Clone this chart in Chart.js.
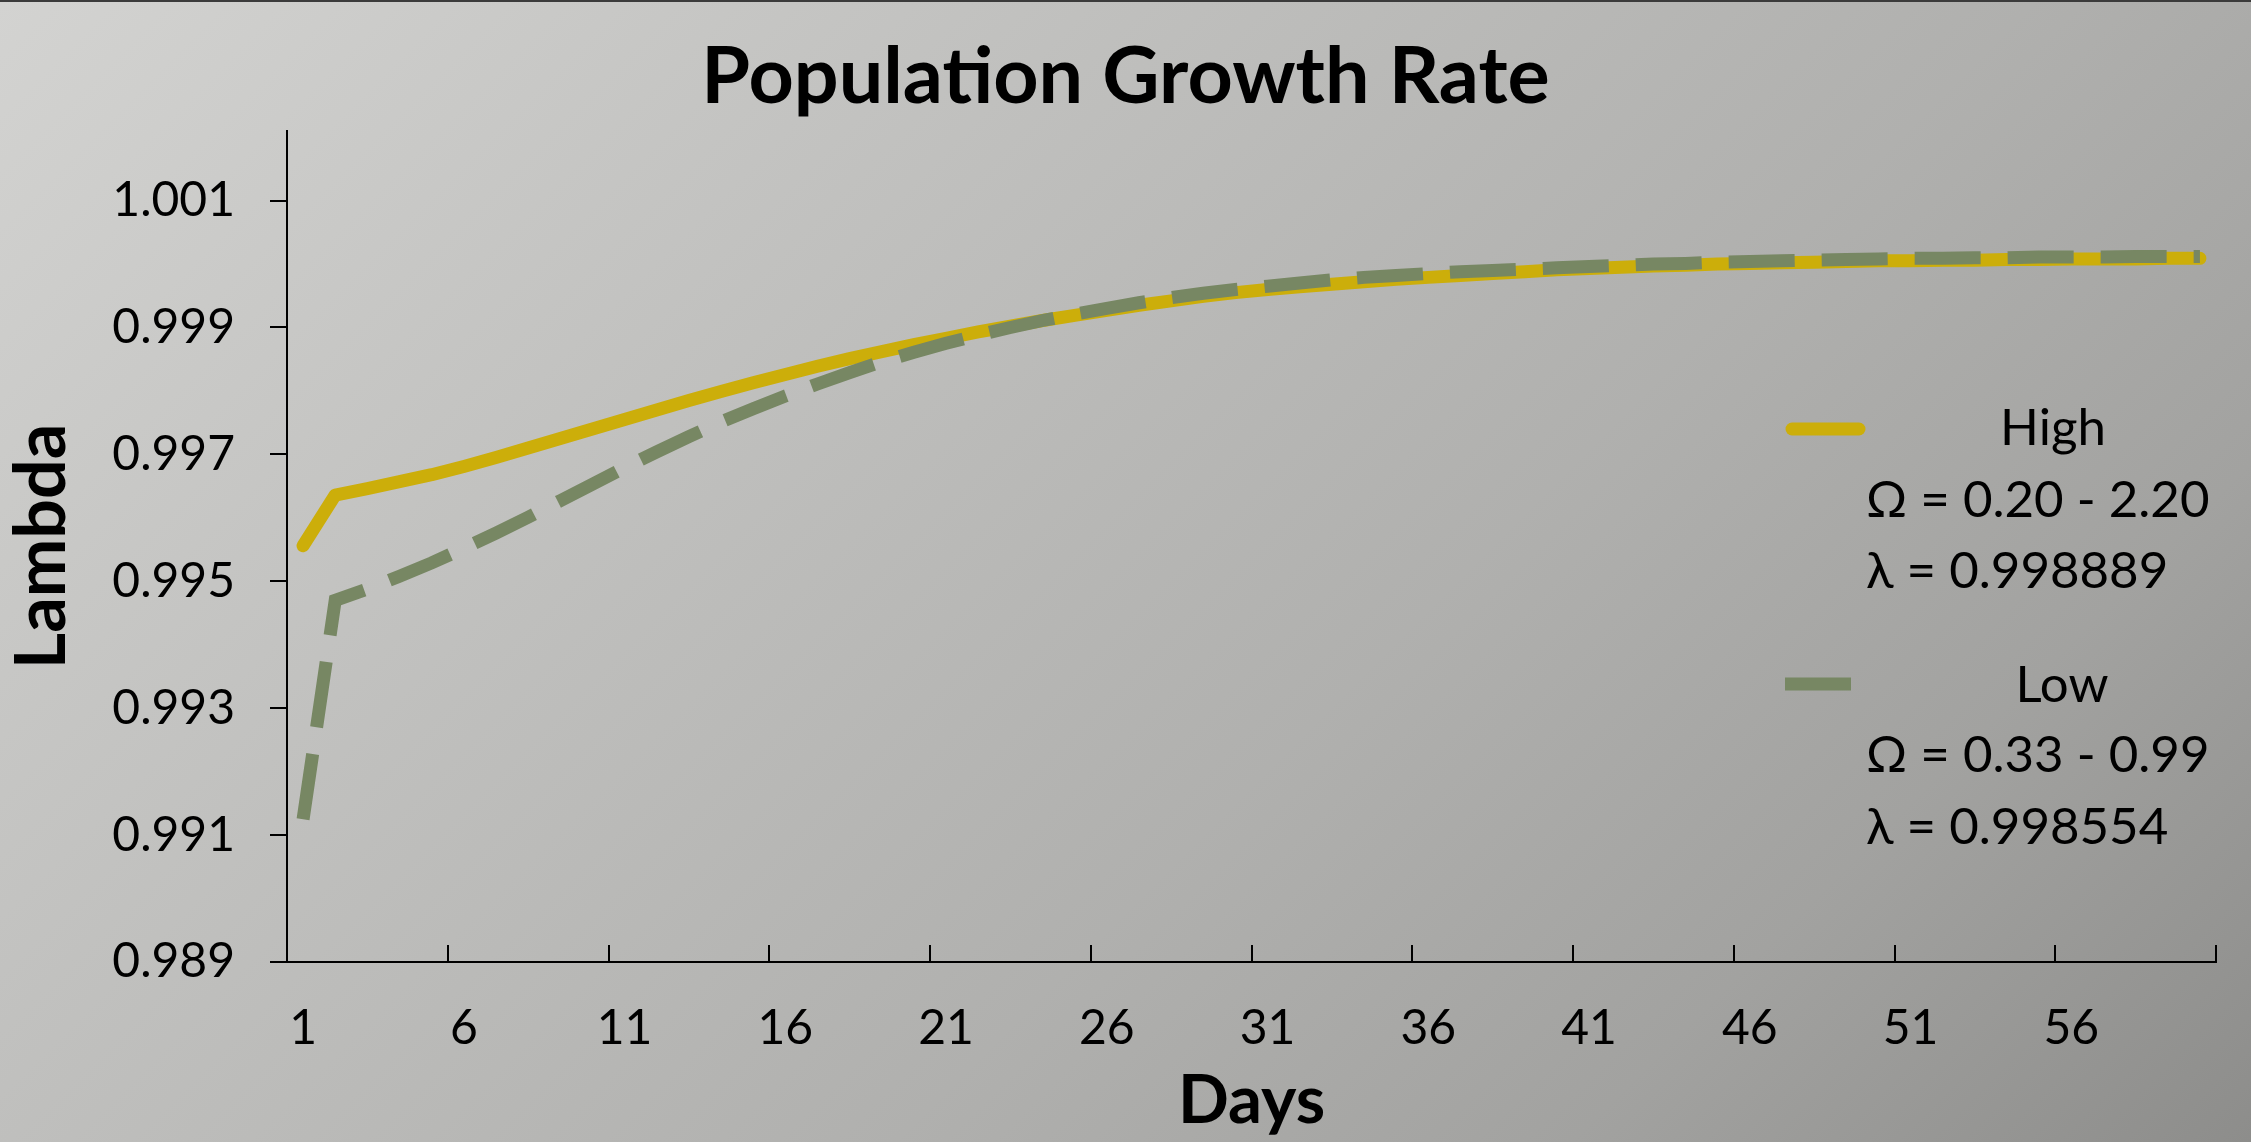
<!DOCTYPE html>
<html>
<head>
<meta charset="utf-8">
<title>Population Growth Rate</title>
<script src="https://cdn.jsdelivr.net/npm/chart.js@4.4.1/dist/chart.umd.min.js"></script>
<style>
  html, body { margin: 0; padding: 0; background: #c0c0be; }
  #wrap { width: 2251px; height: 1142px; }
  canvas { display: block; }
</style>
</head>
<body>
<div id="wrap"><canvas id="chart" width="2251" height="1142"></canvas></div>
<script>
// Days 1..60
const days = [
  1, 2, 3, 4, 5, 6, 7, 8, 9, 10,
  11, 12, 13, 14, 15, 16, 17, 18, 19, 20,
  21, 22, 23, 24, 25, 26, 27, 28, 29, 30,
  31, 32, 33, 34, 35, 36, 37, 38, 39, 40,
  41, 42, 43, 44, 45, 46, 47, 48, 49, 50,
  51, 52, 53, 54, 55, 56, 57, 58, 59, 60
];

// Daily lambda, high omega range
const highLambda = [
  0.99556, 0.99636, 0.99646, 0.99657, 0.99668, 0.99681, 0.99695, 0.99710, 0.99725, 0.99740,
  0.99755, 0.99770, 0.99785, 0.99799, 0.99813, 0.99826, 0.99839, 0.99851, 0.99862, 0.99873,
  0.99883, 0.99893, 0.99902, 0.99911, 0.99919, 0.99927, 0.99935, 0.99942, 0.99949, 0.99955,
  0.99960, 0.99964, 0.99968, 0.99972, 0.99976, 0.99979, 0.99982, 0.99985, 0.99988, 0.99991,
  0.99993, 0.99995, 0.99997, 0.99998, 1.00000, 1.00001, 1.00002, 1.00003, 1.00004, 1.00005,
  1.00005, 1.00006, 1.00006, 1.00007, 1.00007, 1.00008, 1.00008, 1.00008, 1.00009, 1.00009
];

// Daily lambda, low omega range
const lowLambda = [
  0.99125, 0.99470, 0.99488, 0.99508, 0.99529, 0.99552, 0.99576, 0.99601, 0.99627, 0.99653,
  0.99679, 0.99704, 0.99728, 0.99751, 0.99772, 0.99792, 0.99811, 0.99829, 0.99846, 0.99861,
  0.99875, 0.99888, 0.99900, 0.99911, 0.99921, 0.99930, 0.99939, 0.99947, 0.99954, 0.99960,
  0.99965, 0.99970, 0.99975, 0.99979, 0.99982, 0.99985, 0.99988, 0.99990, 0.99992, 0.99994,
  0.99996, 0.99998, 1.00000, 1.00001, 1.00003, 1.00004, 1.00005, 1.00006, 1.00007, 1.00008,
  1.00009, 1.00009, 1.00010, 1.00010, 1.00011, 1.00011, 1.00011, 1.00012, 1.00012, 1.00012
];

// Y-axis tick values
const yTicks = [0.989, 0.991, 0.993, 0.995, 0.997, 0.999, 1.001];

// Legend entries
const seriesNames = ['High', 'Low'];
const omegaRanges = ['Ω = 0.20 - 2.20', 'Ω = 0.33 - 0.99'];
const lambdaMeans = ['λ = 0.998889', 'λ = 0.998554'];

const FONT = 'Lato, "Open Sans", "DejaVu Sans", sans-serif';
const HIGH_COLOR = '#CCAE0A';
const LOW_COLOR = '#778763';

// Diagonal grey gradient behind everything, with a dark top edge
const backdrop = {
  id: 'backdrop',
  beforeDraw(chart) {
    const { ctx, width, height } = chart;
    const g = ctx.createLinearGradient(0, 0, 1696, 1696);
    g.addColorStop(0.00, '#d3d3d1');
    g.addColorStop(0.20, '#c7c7c5');
    g.addColorStop(0.60, '#b0b0ae');
    g.addColorStop(0.80, '#a2a2a0');
    g.addColorStop(1.00, '#8d8d8b');
    ctx.save();
    ctx.fillStyle = g;
    ctx.fillRect(0, 0, width, height);
    ctx.fillStyle = '#3b3b3b';
    ctx.fillRect(0, 0, width, 2);
    ctx.restore();
  }
};

// Legend block: line sample plus three text lines per series
const sideLegend = {
  id: 'sideLegend',
  afterDraw(chart) {
    const { ctx } = chart;
    const blocks = [
      { ds: 0, swY: 429, swX1: 1792, swX2: 1859, nameX: 2053, base: [445, 516.5, 588] },
      { ds: 1, swY: 684, swX1: 1785, swX2: 1851, nameX: 2062, base: [701.5, 772, 843.5] }
    ];
    ctx.save();
    blocks.forEach((b, i) => {
      const d = chart.data.datasets[b.ds];
      ctx.beginPath();
      ctx.strokeStyle = d.borderColor;
      ctx.lineWidth = d.borderWidth;
      ctx.lineCap = d.borderCapStyle || 'butt';
      ctx.setLineDash([]);
      ctx.moveTo(b.swX1, b.swY);
      ctx.lineTo(b.swX2, b.swY);
      ctx.stroke();

      ctx.fillStyle = '#000';
      ctx.font = '51px ' + FONT;
      ctx.textBaseline = 'alphabetic';
      ctx.textAlign = 'center';
      ctx.fillText(seriesNames[i], b.nameX, b.base[0]);
      ctx.textAlign = 'left';
      ctx.fillText(omegaRanges[i], 1866, b.base[1]);
      ctx.fillText(lambdaMeans[i], 1866, b.base[2]);
    });
    ctx.restore();
  }
};

function build() {
  const ctx = document.getElementById('chart').getContext('2d');
  new Chart(ctx, {
    type: 'line',
    data: {
      labels: days,
      datasets: [
        {
          label: seriesNames[0],
          data: highLambda,
          borderColor: HIGH_COLOR,
          backgroundColor: HIGH_COLOR,
          borderWidth: 13,
          borderCapStyle: 'round',
          borderJoinStyle: 'round',
          pointRadius: 0,
          tension: 0,
          fill: false,
          order: 2
        },
        {
          label: seriesNames[1],
          data: lowLambda,
          borderColor: LOW_COLOR,
          backgroundColor: LOW_COLOR,
          borderWidth: 13,
          borderDash: [66, 27],
          borderCapStyle: 'butt',
          borderJoinStyle: 'miter',
          pointRadius: 0,
          tension: 0,
          fill: false,
          order: 1
        }
      ]
    },
    options: {
      responsive: false,
      animation: false,
      events: [],
      layout: { padding: { left: 0, right: 0, top: 0, bottom: 0 } },
      plugins: {
        legend: { display: false },
        tooltip: { enabled: false },
        title: {
          display: true,
          text: 'Population Growth Rate',
          color: '#000',
          font: { family: FONT, size: 79, weight: 'bold' },
          padding: { top: 30, bottom: 6 }
        }
      },
      scales: {
        x: {
          type: 'category',
          offset: true,
          afterFit(scale) {
            scale.height = 180;
            scale.paddingRight = 35;
          },
          border: { display: true, color: '#000', width: 2 },
          grid: {
            display: true,
            offset: true,
            drawOnChartArea: false,
            drawTicks: true,
            tickLength: -17,
            lineWidth: 2,
            color: (c) => (c.index === undefined || c.index % 5 === 0) ? '#000' : 'rgba(0,0,0,0)'
          },
          ticks: {
            autoSkip: false,
            maxRotation: 0,
            minRotation: 0,
            padding: 55,
            color: '#000',
            font: { family: FONT, size: 48 },
            callback: (v, i) => (i % 5 === 0 ? String(days[i]) : '')
          },
          title: {
            display: true,
            text: 'Days',
            color: '#000',
            font: { family: FONT, size: 67, weight: 'bold' },
            padding: { top: 0, bottom: 0 }
          }
        },
        y: {
          type: 'linear',
          min: 0.989,
          max: 1.0021,
          afterFit(scale) { scale.width = 287; },
          afterBuildTicks(scale) { scale.ticks = yTicks.map(v => ({ value: v })); },
          border: { display: true, color: '#000', width: 2 },
          grid: {
            display: true,
            drawOnChartArea: false,
            drawTicks: true,
            tickLength: 17,
            lineWidth: 2,
            color: '#000'
          },
          ticks: {
            padding: 35,
            color: '#000',
            font: { family: FONT, size: 48 },
            callback: (v) => Number(v).toFixed(3)
          },
          title: {
            display: true,
            text: 'Lambda',
            color: '#000',
            font: { family: FONT, size: 70, weight: 'bold' },
            padding: { top: 0, bottom: 0 }
          }
        }
      }
    },
    plugins: [backdrop, sideLegend]
  });
}

const fontLoads = [
  '48px Lato', '51px Lato', 'bold 67px Lato', 'bold 70px Lato', 'bold 79px Lato'
].map(f => document.fonts.load(f).catch(() => null));
Promise.all(fontLoads).then(build, build);
</script>
</body>
</html>
